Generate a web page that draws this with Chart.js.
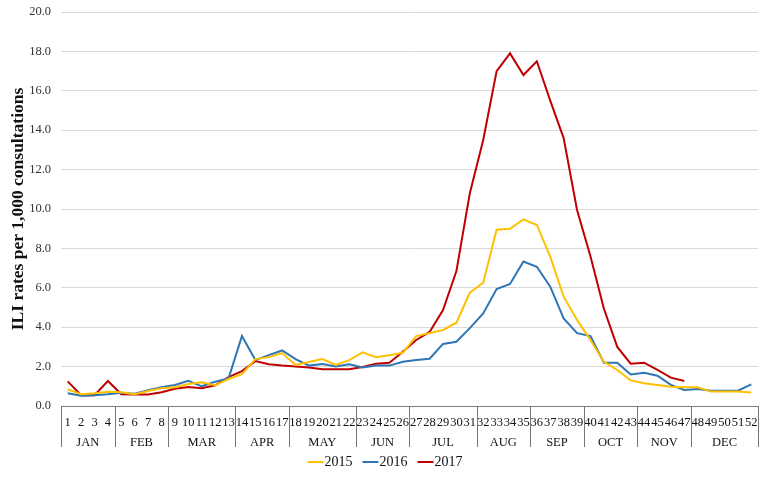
<!DOCTYPE html>
<html>
<head>
<meta charset="utf-8">
<script src="https://cdn.jsdelivr.net/npm/chart.js@4.4.1/dist/chart.umd.min.js"></script>
<style>
html,body{margin:0;padding:0;background:#fff;}
#wrap{width:768px;height:478px;}
</style>
</head>
<body>
<div id="wrap"><canvas id="c" width="768" height="478"></canvas></div>
<script>
const weeks = Array.from({length:52},(_,i)=>String(i+1));
const months = ["JAN","FEB","MAR","APR","MAY","JUN","JUL","AUG","SEP","OCT","NOV","DEC"];
const monthWeekCounts = [4,4,5,4,5,4,5,4,4,4,4,5];
const yTicks = [0,2,4,6,8,10,12,14,16,18,20];

const s2015 = [0.85,0.6,0.65,0.72,0.7,0.6,0.76,0.9,0.95,1.12,1.2,1.05,1.37,1.62,2.38,2.48,2.69,2.08,2.23,2.38,2.08,2.33,2.72,2.48,2.58,2.7,3.55,3.7,3.86,4.23,5.75,6.26,8.95,9.0,9.47,9.19,7.58,5.55,4.37,3.35,2.25,1.83,1.3,1.15,1.07,0.98,0.95,0.95,0.73,0.73,0.73,0.68];
const s2016 = [0.65,0.52,0.55,0.6,0.67,0.62,0.8,0.95,1.07,1.28,1.0,1.23,1.4,3.55,2.33,2.58,2.82,2.38,2.05,2.13,2.0,2.12,1.96,2.05,2.05,2.25,2.33,2.4,3.15,3.26,3.95,4.7,5.94,6.19,7.33,7.07,6.06,4.45,3.7,3.55,2.2,2.2,1.6,1.69,1.54,1.07,0.81,0.86,0.78,0.78,0.78,1.1];
const s2017 = [1.25,0.55,0.55,1.27,0.6,0.58,0.58,0.7,0.88,0.97,0.9,1.05,1.47,1.77,2.28,2.12,2.05,2.0,1.96,1.87,1.87,1.87,1.98,2.15,2.2,2.75,3.35,3.76,4.87,6.85,10.8,13.5,17.0,17.9,16.8,17.5,15.5,13.6,9.95,7.6,4.95,3.0,2.15,2.2,1.83,1.44,1.27,null,null,null,null,null];

const FONT = "'Liberation Serif','Times New Roman',serif";

const monthPlugin = {
  id:'months',
  afterDraw(chart){
    const sx = chart.scales.x;
    const ctx = chart.ctx;
    const half = (sx.getPixelForValue(1)-sx.getPixelForValue(0))/2;
    const top = sx.top, bottom = sx.top + 41;
    ctx.save();
    ctx.strokeStyle = '#767676';
    ctx.lineWidth = 1;
    let start = 0;
    const edges = [];
    for (let m=0;m<months.length;m++){
      edges.push(start);
      start += monthWeekCounts[m];
    }
    edges.push(start);
    edges.forEach(e=>{
      const x = Math.round(sx.getPixelForValue(e) - half) + 0.5;
      ctx.beginPath(); ctx.moveTo(x, top); ctx.lineTo(x, bottom); ctx.stroke();
    });
    ctx.fillStyle = '#111';
    ctx.font = "12.5px " + FONT;
    ctx.textAlign = 'center';
    ctx.textBaseline = 'middle';
    for (let m=0;m<months.length;m++){
      const a = sx.getPixelForValue(edges[m]) - half;
      const b = sx.getPixelForValue(edges[m+1]) - half;
      ctx.fillText(months[m], (a+b)/2, top + 36.5);
    }
    // legend drawn from dataset labels/colours
    ctx.font = "14px " + FONT;
    ctx.textAlign = 'left';
    const lineW = 16, gap = 1, itemGap = 10;
    const items = chart.data.datasets.map(d=>({label:d.label, color:d.borderColor, w: lineW + gap + ctx.measureText(d.label).width}));
    const total = items.reduce((s,i)=>s+i.w,0) + itemGap*(items.length-1);
    let x = 385 - total/2;
    const y = 462;
    items.forEach(it=>{
      ctx.strokeStyle = it.color; ctx.lineWidth = 2;
      ctx.beginPath(); ctx.moveTo(x, y); ctx.lineTo(x+lineW, y); ctx.stroke();
      ctx.fillStyle = '#111';
      ctx.fillText(it.label, x + lineW + gap, y);
      x += it.w + itemGap;
    });
    ctx.restore();
  }
};

new Chart(document.getElementById('c'), {
  type:'line',
  data:{
    labels: weeks,
    datasets:[
      {label:'2015', data:s2015, borderColor:'#FFC000', backgroundColor:'#FFC000', borderWidth:2, pointRadius:0, tension:0, fill:false},
      {label:'2016', data:s2016, borderColor:'#2E75B6', backgroundColor:'#2E75B6', borderWidth:2, pointRadius:0, tension:0, fill:false},
      {label:'2017', data:s2017, borderColor:'#C00000', backgroundColor:'#C00000', borderWidth:2, pointRadius:0, tension:0, fill:false, spanGaps:false}
    ]
  },
  options:{
    responsive:false,
    animation:false,
    layout:{padding:{left:0,right:10,top:12,bottom:0}},
    plugins:{
      legend:{display:false},
      tooltip:{enabled:false}
    },
    scales:{
      x:{
        type:'category',
        offset:true,
        grid:{display:false, drawTicks:false},
        border:{display:true, color:'#7f7f7f', width:1},
        ticks:{autoSkip:false, maxRotation:0, minRotation:0, color:'#111', font:{family:FONT,size:12.5}, padding:9},
        afterFit(s){ s.height = 72; }
      },
      y:{
        min:0, max:20,
        afterBuildTicks(s){ s.ticks = yTicks.map(v=>({value:v})); },
        grid:{color:'#d9d9d9', drawTicks:false},
        border:{display:false},
        ticks:{color:'#333', font:{family:FONT,size:12.5}, padding:10, callback:v=>Number(v).toFixed(1)},
        title:{display:true, text:'ILI rates per 1,000 consultations', color:'#111', font:{family:FONT,size:17.5,weight:'bold'}, padding:{top:8,bottom:0}},
        afterFit(s){ s.width = 61; s.paddingTop = 0; s.paddingBottom = 0; }
      }
    }
  },
  plugins:[monthPlugin]
});
</script>
</body>
</html>
